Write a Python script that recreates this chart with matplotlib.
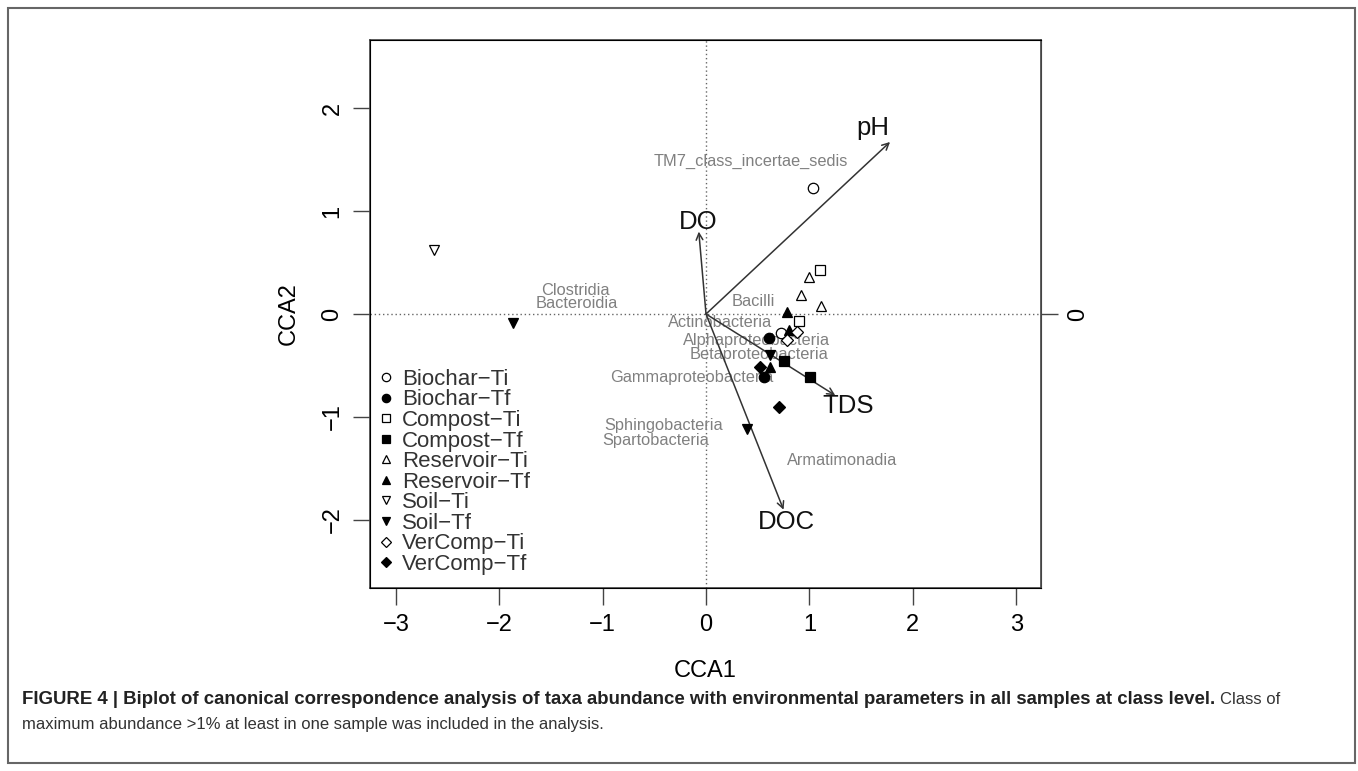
import matplotlib
matplotlib.use('Agg')
import matplotlib.pyplot as plt
from matplotlib.patches import Rectangle

plt.rcParams['font.family'] = ['Liberation Sans', 'DejaVu Sans']

# sample scores (site points)
groups = ['Biochar-Ti', 'Biochar-Tf', 'Compost-Ti', 'Compost-Tf', 'Reservoir-Ti',
          'Reservoir-Tf', 'Soil-Ti', 'Soil-Tf', 'VerComp-Ti', 'VerComp-Tf']
markers = ['o', 'o', 's', 's', '^', '^', 'v', 'v', 'D', 'D']
filled = [False, True, False, True, False, True, False, True, False, True]

pt_group = ['Biochar-Ti', 'Biochar-Ti',
            'Biochar-Tf', 'Biochar-Tf',
            'Compost-Ti', 'Compost-Ti',
            'Compost-Tf', 'Compost-Tf',
            'Reservoir-Ti', 'Reservoir-Ti', 'Reservoir-Ti',
            'Reservoir-Tf', 'Reservoir-Tf', 'Reservoir-Tf',
            'Soil-Ti',
            'Soil-Tf', 'Soil-Tf', 'Soil-Tf',
            'VerComp-Ti', 'VerComp-Ti',
            'VerComp-Tf', 'VerComp-Tf']
cca1 = [1.03, 0.73,
        0.61, 0.56,
        1.10, 0.90,
        0.75, 1.01,
        1.00, 0.92, 1.11,
        0.78, 0.80, 0.62,
        -2.63,
        -1.87, 0.62, 0.40,
        0.88, 0.78,
        0.52, 0.71]
cca2 = [1.22, -0.18,
        -0.23, -0.61,
        0.43, -0.07,
        -0.46, -0.61,
        0.36, 0.18, 0.08,
        0.02, -0.16, -0.51,
        0.62,
        -0.09, -0.40, -1.12,
        -0.17, -0.25,
        -0.51, -0.90]

# environmental vectors
env_names = ['pH', 'DO', 'TDS', 'DOC']
env_x = [1.78, -0.07, 1.25, 0.75]
env_y = [1.67, 0.80, -0.79, -1.90]
env_lab_x = [1.61, -0.08, 1.37, 0.78]
env_lab_y = [1.81, 0.89, -0.89, -2.02]

# taxa (species scores, shown as labels)
taxa = ['TM7_class_incertae_sedis', 'Clostridia', 'Bacteroidia', 'Bacilli',
        'Actinobacteria', 'Alphaproteobacteria', 'Betaproteobacteria',
        'Gammaproteobacteria', 'Sphingobacteria', 'Spartobacteria', 'Armatimonadia']
taxa_x = [0.43, -1.26, -1.25, 0.46, 0.14, 0.49, 0.51, -0.14, -0.41, -0.49, 1.32]
taxa_y = [1.48, 0.23, 0.10, 0.12, -0.08, -0.26, -0.39, -0.62, -1.08, -1.23, -1.42]

W, H = 1358, 771
fig = plt.figure(figsize=(W / 100, H / 100), dpi=100)
ax = fig.add_axes([370 / W, 1 - 588 / H, (1041 - 370) / W, (588 - 40) / H])

ax.axhline(0, color='#666666', lw=1, ls=(0, (1, 2)), zorder=1)
ax.axvline(0, color='#666666', lw=1, ls=(0, (1, 2)), zorder=1)

for n, x, y in zip(taxa, taxa_x, taxa_y):
    ax.text(x, y, n, color='#808080', fontsize=11.8, ha='center', va='center', zorder=2)

for n, x, y, lx, ly in zip(env_names, env_x, env_y, env_lab_x, env_lab_y):
    ax.annotate('', xy=(x, y), xytext=(0, 0),
                arrowprops=dict(arrowstyle='->', color='#333333', lw=1.1,
                                mutation_scale=12, shrinkA=0, shrinkB=0), zorder=3)
    ax.text(lx, ly, n, fontsize=18.5, ha='center', va='center', color='#111111', zorder=3)

for g, m, f in zip(groups, markers, filled):
    xs = [x for gg, x in zip(pt_group, cca1) if gg == g]
    ys = [y for gg, y in zip(pt_group, cca2) if gg == g]
    ms = 6.5 if m == 'D' else 7.5
    ax.plot(xs, ys, ls='none', marker=m, ms=ms, mec='black', mew=0.9,
            mfc='black' if f else 'white', label=g.replace('-', '\u2212'), zorder=4)

ax.set_xlim(-3.25, 3.24)
ax.set_ylim(-2.66, 2.66)
ax.set_xticks([-3, -2, -1, 0, 1, 2, 3])
ax.set_yticks([-2, -1, 0, 1, 2])
ax.set_xticklabels(['\u22123', '\u22122', '\u22121', '0', '1', '2', '3'])
ax.set_yticklabels(['\u22122', '\u22121', '0', '1', '2'], rotation=90, va='center')
ax.tick_params(direction='out', length=12, width=1, color='#444444', labelsize=17, pad=7)
ax.set_xlabel('CCA1', fontsize=17, labelpad=17)
ax.set_ylabel('CCA2', fontsize=17, labelpad=16)
for s in ax.spines.values():
    s.set_color('#444444')
    s.set_linewidth(1.2)

ax2 = ax.twinx()
ax2.set_ylim(ax.get_ylim())
ax2.set_yticks([0])
ax2.set_yticklabels(['0'], rotation=90, va='center')
ax2.tick_params(direction='out', length=12, width=1, color='#444444', labelsize=17, pad=7)
ax2.spines['right'].set_color('#444444')

leg = ax.legend(loc='upper left', bbox_to_anchor=(0.0, 0.416), frameon=False,
                fontsize=16, handlelength=0.6, handletextpad=0.44, labelspacing=-0.02,
                borderaxespad=0.0, markerscale=0.8)
for t in leg.get_texts():
    t.set_color('#333333')

fig.patches.append(Rectangle((8 / W, 1 - 763 / H), (1355 - 8) / W, (763 - 8) / H,
                             transform=fig.transFigure, fill=False, ec='#666666', lw=1.5))

cap1 = fig.text(22 / W, 1 - 700 / H,
                'FIGURE 4 | Biplot of canonical correspondence analysis of taxa abundance with '
                'environmental parameters in all samples at class level.',
                fontsize=13.4, fontweight='bold', va='center', color='#222222')
fig.canvas.draw()
bb = cap1.get_window_extent()
fig.text(bb.x1 / W + 5 / W, 1 - 700 / H, 'Class of',
         fontsize=12, va='center', color='#333333')
fig.text(22 / W, 1 - 725 / H,
         'maximum abundance >1% at least in one sample was included in the analysis.',
         fontsize=12, va='center', color='#333333')

fig.savefig('out.png', dpi=100)
